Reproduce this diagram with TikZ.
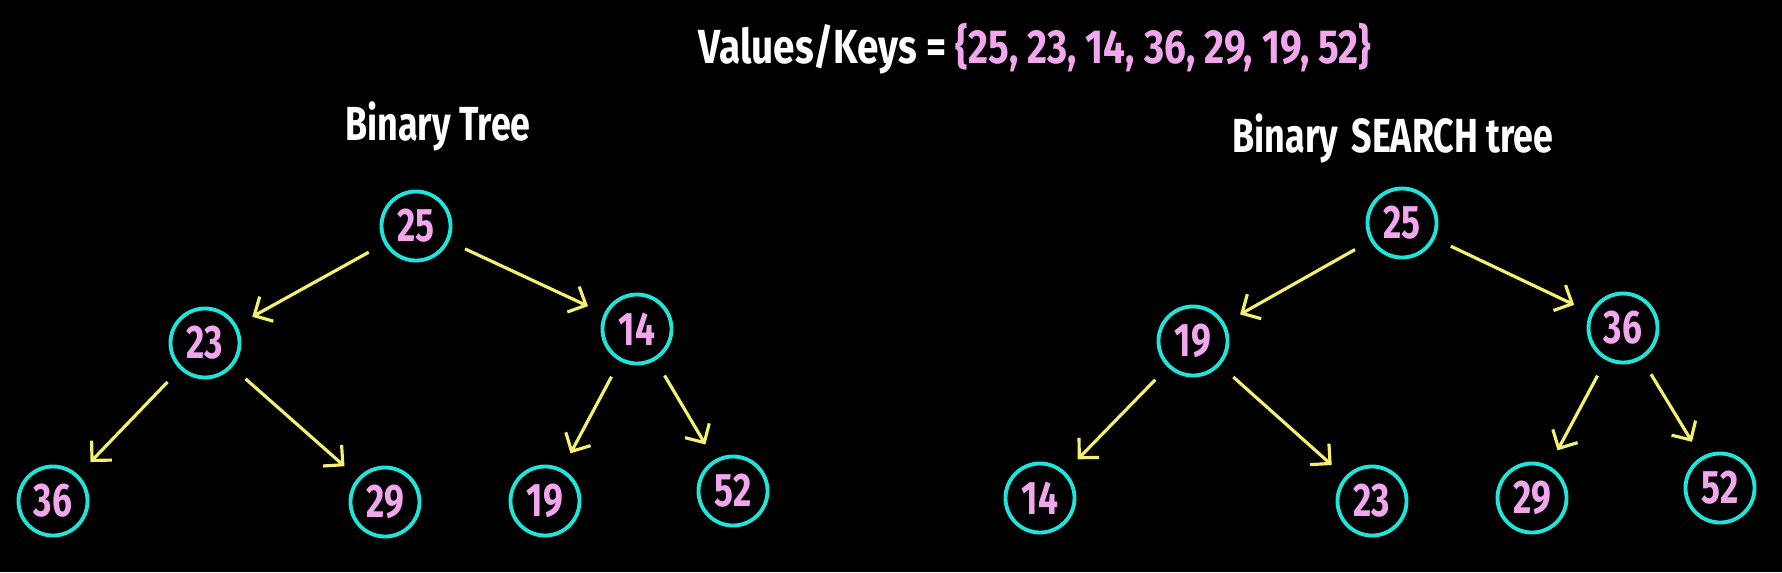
\documentclass[tikz,border=0pt]{standalone}
\usepackage{fontspec}
\setmainfont{Fira Sans}[FakeStretch=0.75]
\newfontfamily\headfont{Fira Sans}[FakeStretch=0.81]
\usetikzlibrary{arrows.meta}
\definecolor{nodepink}{RGB}{242,166,238}
\definecolor{ringcyan}{RGB}{32,228,218}
\definecolor{arrowyellow}{RGB}{246,240,112}
\tikzset{
  keynode/.style={circle, draw=ringcyan, line width=1.1pt, minimum size=6.9mm, inner sep=0pt,
    text=nodepink, font=\bfseries\fontsize{13.4}{13.4}\selectfont},
  titletext/.style={text=white, font=\bfseries\fontsize{13.6}{14}\selectfont, anchor=base, inner sep=0pt},
  edgearrow/.style={draw=arrowyellow, line width=0.9pt, -{Straight Barb[length=4pt,width=8pt]},
    shorten <=5pt, shorten >=5pt}
}
\begin{document}
\begin{tikzpicture}[x=0.01cm,y=-0.01cm]
\fill[black] (0,0) rectangle (1782,572);
\useasboundingbox (0,0) rectangle (1782,572);

\node[titletext, font=\headfont\bfseries\fontsize{13.6}{14}\selectfont] (keys) at (1035,63) {Values/Keys = \textcolor{nodepink}{\{25, 23, 14, 36, 29, 19, 52\}}};
\node[titletext] (t1) at (438,140) {Binary Tree};
\node[titletext] (t2) at (1393,152) {Binary\hspace{0.28em}SEARCH tree};

% left tree
\node[keynode] (L25) at (416,226) {25};
\node[keynode] (L23) at (205,343) {23};
\node[keynode] (L14) at (637,329) {14};
\node[keynode] (L36) at (53,501) {36};
\node[keynode] (L29) at (385,502) {29};
\node[keynode] (L19) at (545,501) {19};
\node[keynode] (L52) at (733,491) {52};
\draw[edgearrow] (L25) -- (L23);
\draw[edgearrow] (L25) -- (L14);
\draw[edgearrow] (L23) -- (L36);
\draw[edgearrow] (L23) -- (L29);
\draw[edgearrow] (L14) -- (L19);
\draw[edgearrow] (L14) -- (L52);

% right tree
\node[keynode] (R25) at (1402,223) {25};
\node[keynode] (R19) at (1193,341) {19};
\node[keynode] (R36) at (1623,328) {36};
\node[keynode] (R14) at (1040,498) {14};
\node[keynode] (R23) at (1372,501) {23};
\node[keynode] (R29) at (1532,498) {29};
\node[keynode] (R52) at (1720,488) {52};
\draw[edgearrow] (R25) -- (R19);
\draw[edgearrow] (R25) -- (R36);
\draw[edgearrow] (R19) -- (R14);
\draw[edgearrow] (R19) -- (R23);
\draw[edgearrow] (R36) -- (R29);
\draw[edgearrow] (R36) -- (R52);
\end{tikzpicture}
\end{document}
